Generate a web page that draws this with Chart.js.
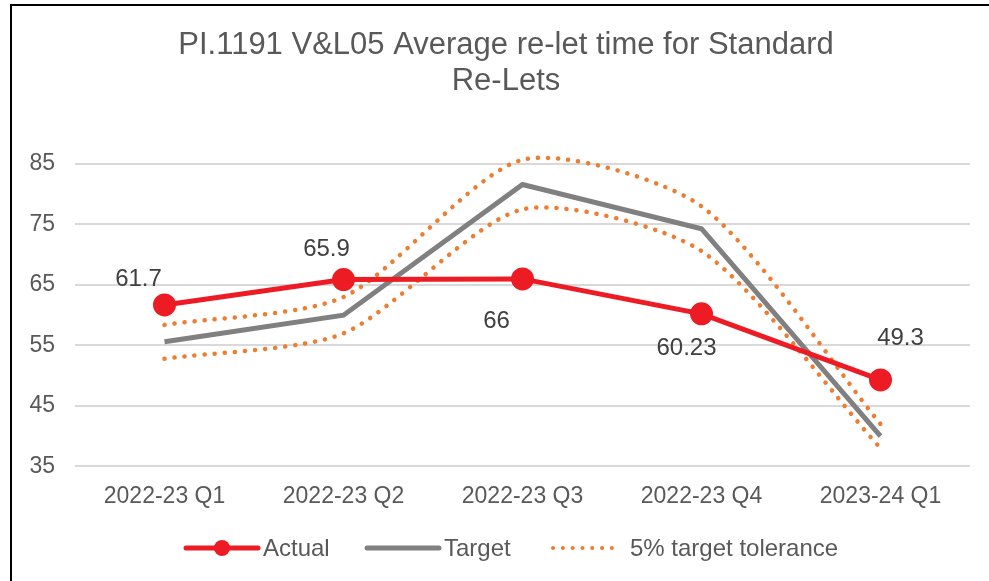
<html lang="en">
<head>
  <meta charset="UTF-8">
  <script src="https://cdn.jsdelivr.net/npm/chart.js@4.4.0/dist/chart.umd.min.js"></script>
  <title>PI.1191 V&amp;L05 Average re-let time</title>
  <style>
    body { margin: 0; background: #fff; overflow: hidden; }
    #wrap { position: absolute; left: 10px; top: 4px; width: 990px; height: 577px;
            border-left: 2px solid #000; border-top: 2px solid #000; box-sizing: border-box; }
  </style>
</head>
<body>
  <div id="wrap"><canvas id="myChart" width="988" height="575"></canvas></div>
  <script>
    const quarters = ['2022-23 Q1', '2022-23 Q2', '2022-23 Q3', '2022-23 Q4', '2023-24 Q1'];
    const actual = [61.7, 65.9, 66, 60.23, 49.3];
    const target = [55.6, 60, 81.6, 74.3, 40];
    const toleranceUpper = [58.4, 63, 85.7, 78, 42];
    const toleranceLower = [52.8, 57, 77.5, 70.6, 38];
    const yTicks = [35, 45, 55, 65, 75, 85];

    // where each "Actual" label sits relative to its point
    const labelOffsets = [[-26, -26], [-17, -30], [-26, 42], [-15, 35], [20, -42]];

    const font = "'Liberation Sans', Arial, sans-serif";
    const orange = '#ed7d31';

    const extras = {
      id: 'extras',
      afterDatasetsDraw(chart) {
        const ctx = chart.ctx;
        const meta = chart.getDatasetMeta(0);
        ctx.save();
        ctx.fillStyle = '#404040';
        ctx.font = '24px ' + font;
        ctx.textAlign = 'center';
        ctx.textBaseline = 'middle';
        meta.data.forEach((pt, i) => {
          ctx.fillText(String(actual[i]), pt.x + labelOffsets[i][0], pt.y + labelOffsets[i][1]);
        });
        ctx.restore();
      },
      afterDraw(chart) {
        const ctx = chart.ctx;
        const w = chart.width;
        ctx.save();
        // title
        ctx.fillStyle = '#595959';
        ctx.font = '31px ' + font;
        ctx.textAlign = 'center';
        ctx.textBaseline = 'alphabetic';
        ctx.fillText('PI.1191 V&L05 Average re-let time for Standard', w / 2, 48);
        ctx.fillText('Re-Lets', w / 2, 84);

        // legend
        const ly = 542;
        ctx.font = '24px ' + font;
        ctx.textAlign = 'left';
        ctx.textBaseline = 'middle';
        ctx.lineCap = 'round';
        const items = [
          { x: 174, label: 'Actual' },
          { x: 355, label: 'Target' },
          { x: 541, label: '5% target tolerance' }
        ];
        // actual
        ctx.strokeStyle = '#ed1c24'; ctx.lineWidth = 5;
        ctx.beginPath(); ctx.moveTo(items[0].x, ly); ctx.lineTo(items[0].x + 72, ly); ctx.stroke();
        ctx.fillStyle = '#ed1c24';
        ctx.beginPath(); ctx.arc(items[0].x + 36, ly, 8, 0, Math.PI * 2); ctx.fill();
        // target
        ctx.strokeStyle = '#808080'; ctx.lineWidth = 5;
        ctx.beginPath(); ctx.moveTo(items[1].x, ly); ctx.lineTo(items[1].x + 72, ly); ctx.stroke();
        // tolerance
        ctx.strokeStyle = orange; ctx.lineWidth = 4;
        ctx.setLineDash([0.1, 9.7]);
        ctx.beginPath(); ctx.moveTo(items[2].x, ly); ctx.lineTo(items[2].x + 68, ly); ctx.stroke();
        ctx.setLineDash([]);
        ctx.fillStyle = '#595959';
        items.forEach(it => ctx.fillText(it.label, it.x + 77, ly + 1));
        ctx.restore();
      }
    };

    const dotted = {
      borderColor: orange,
      borderWidth: 4.5,
      borderDash: [0.1, 10],
      borderCapStyle: 'round',
      pointRadius: 0,
      tension: 0.25,
      clip: false,
      order: 2
    };

    new Chart(document.getElementById('myChart'), {
      type: 'line',
      data: {
        labels: quarters,
        datasets: [
          {
            label: 'Actual',
            data: actual,
            borderColor: '#ed1c24',
            backgroundColor: '#ed1c24',
            borderWidth: 5,
            pointRadius: 9,
            pointHoverRadius: 9,
            tension: 0,
            order: 0
          },
          {
            label: 'Target',
            data: target,
            borderColor: '#808080',
            borderWidth: 5,
            pointRadius: 0,
            tension: 0,
            order: 1
          },
          Object.assign({ label: '5% target tolerance', data: toleranceUpper }, dotted),
          Object.assign({ label: '5% target tolerance (lower)', data: toleranceLower }, dotted)
        ]
      },
      options: {
        responsive: false,
        animation: false,
        layout: { padding: { top: 158, left: 8, right: 30, bottom: 55 } },
        plugins: {
          legend: { display: false },
          title: { display: false },
          tooltip: { enabled: false }
        },
        scales: {
          x: {
            offset: true,
            grid: { display: false, drawTicks: false },
            border: { display: false },
            ticks: { font: { family: font, size: 23 }, color: '#595959', padding: 16 }
          },
          y: {
            min: 35,
            max: 85,
            afterFit: s => { s.width = 55; },
            afterBuildTicks: s => { s.ticks = yTicks.map(v => ({ value: v })); },
            grid: { color: '#d9d9d9', lineWidth: 2, drawTicks: false },
            border: { display: false },
            ticks: { font: { family: font, size: 23 }, color: '#595959', padding: 20 }
          }
        }
      },
      plugins: [extras]
    });
  </script>
</body>
</html>
